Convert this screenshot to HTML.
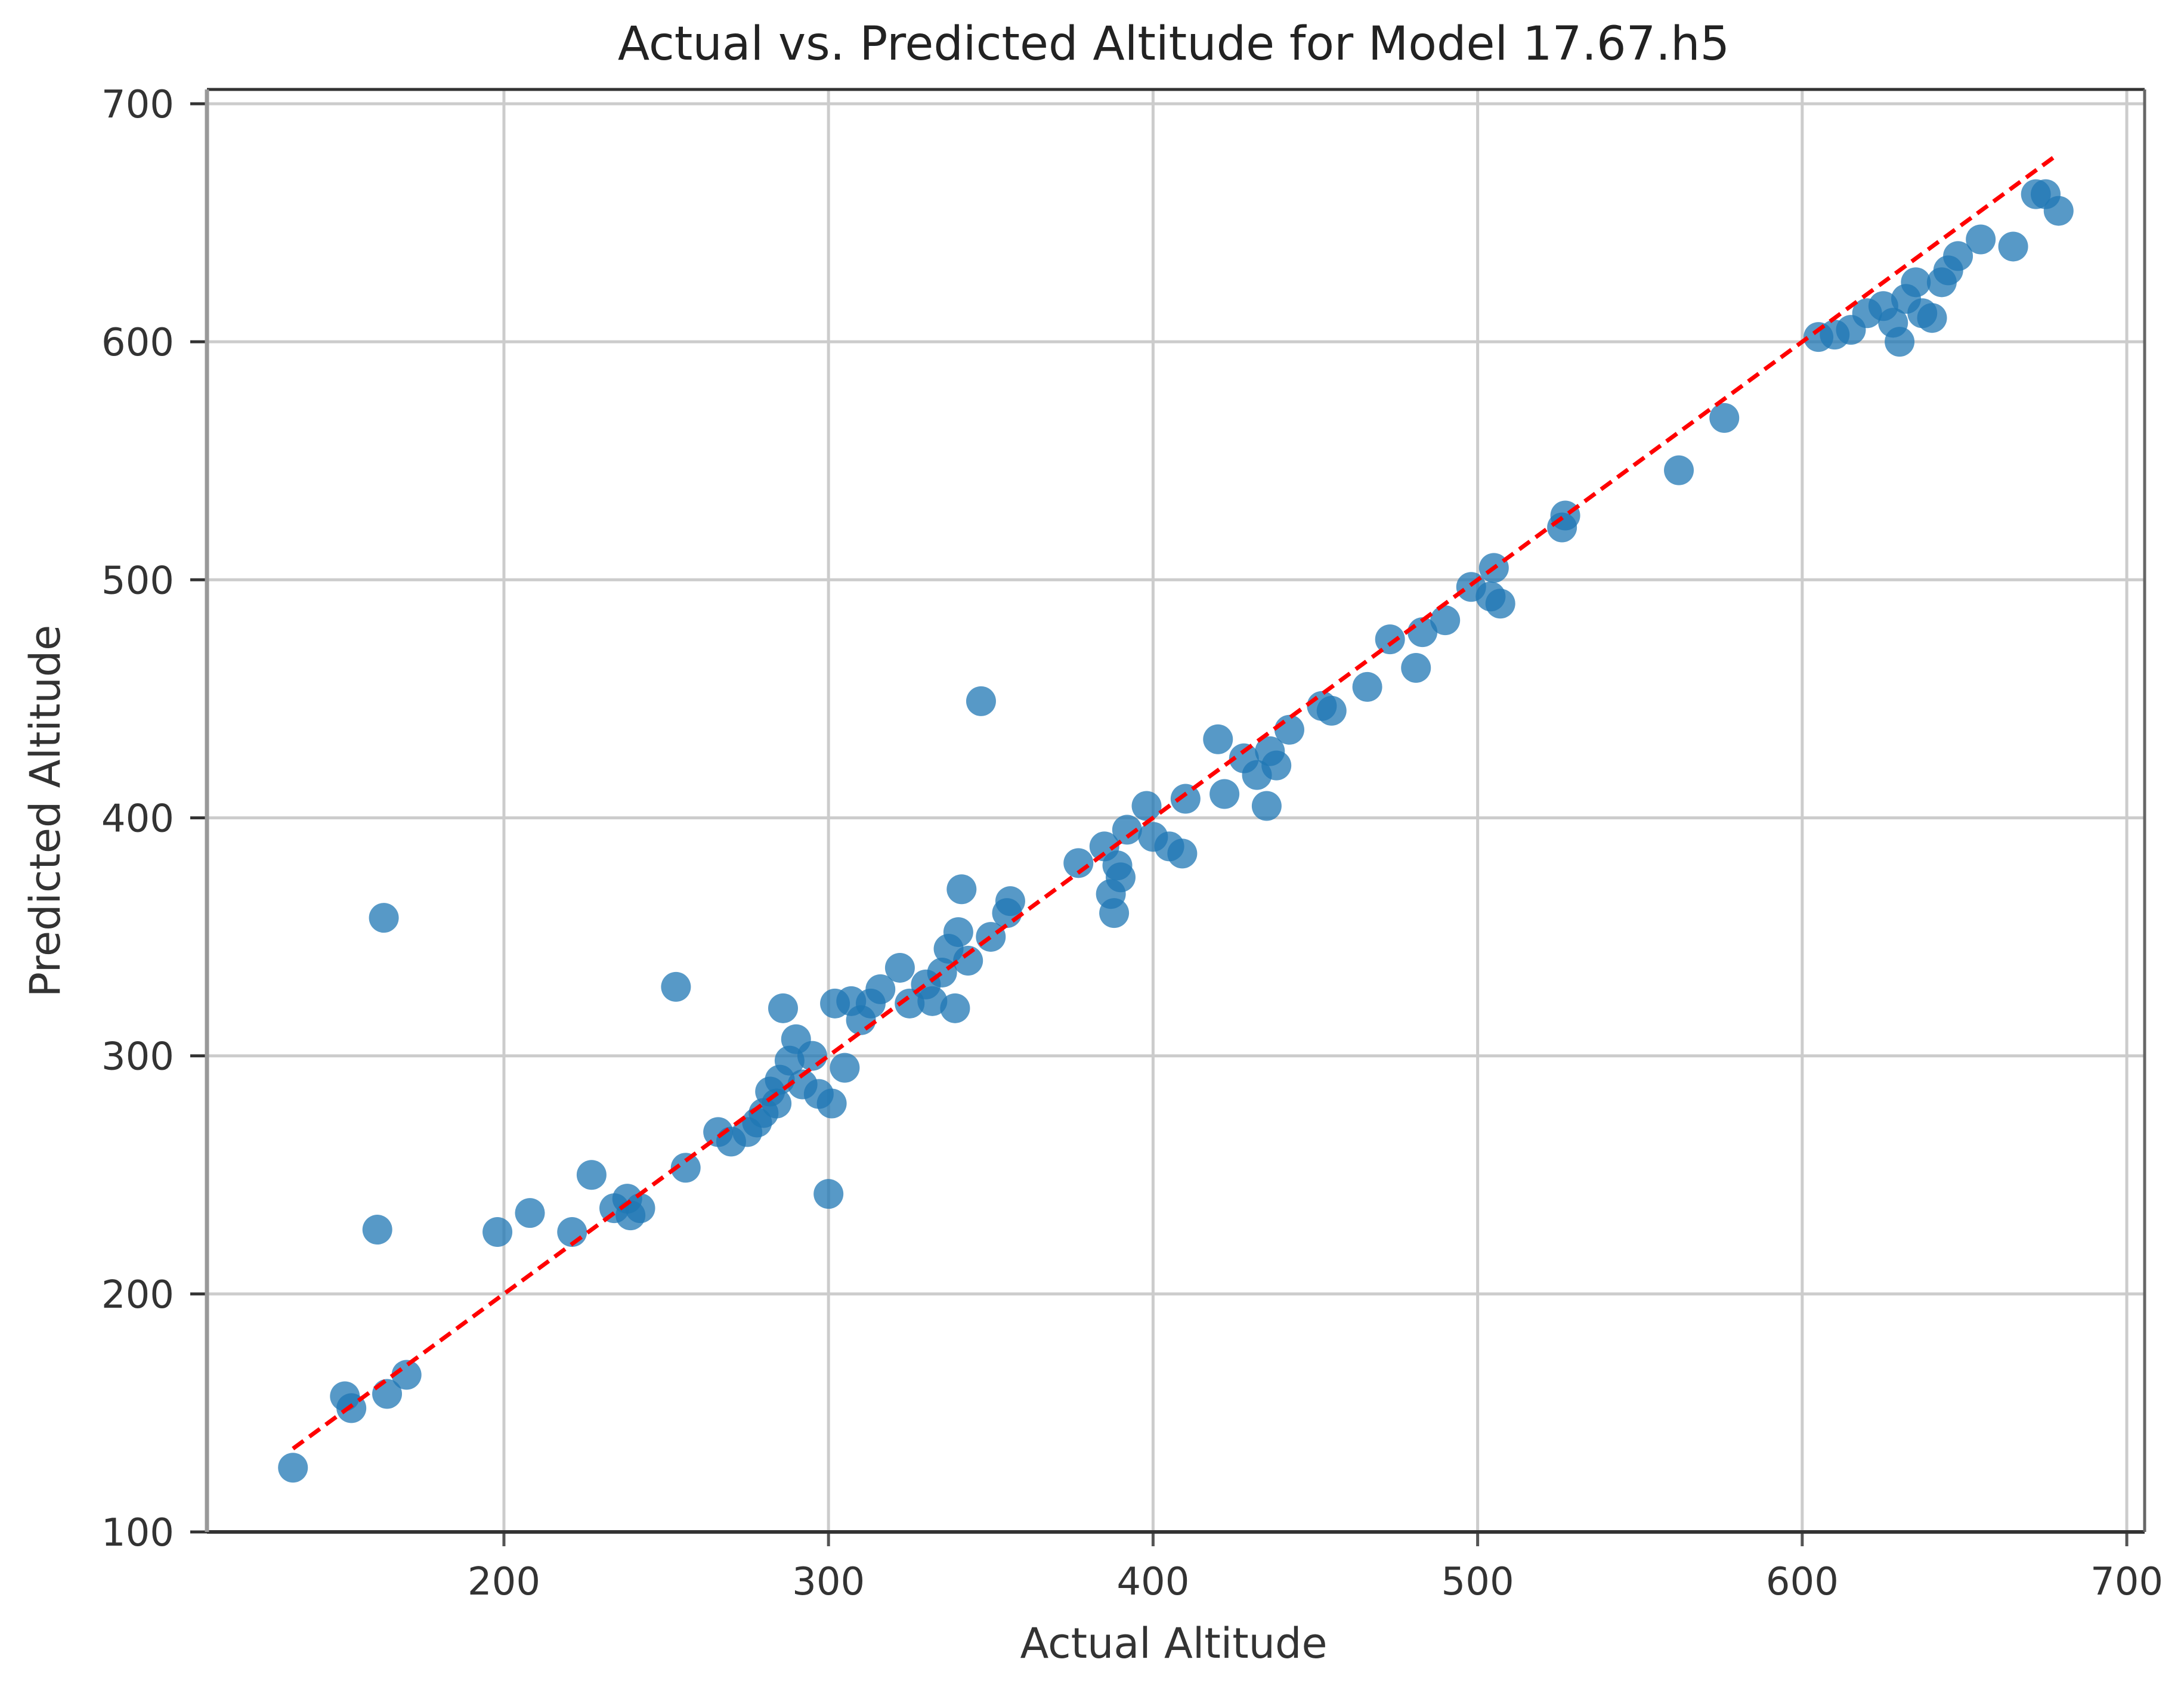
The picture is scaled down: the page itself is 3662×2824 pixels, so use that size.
<!DOCTYPE html>
<html><head><meta charset="utf-8"><style>
html,body{margin:0;padding:0;background:#fff;}
svg{display:block;font-family:"DejaVu Sans","Liberation Sans",sans-serif;}
</style></head><body>
<svg id="chart" width="3662" height="2824" viewBox="0 0 3662 2824" xmlns="http://www.w3.org/2000/svg">
<rect width="3662" height="2824" fill="#fff"/>
<text x="1968" y="100" font-size="78" text-anchor="middle" fill="#222">Actual vs. Predicted Altitude for Model 17.67.h5</text>
<g id="grid"></g>
<g id="ticks"></g>
<g id="points"></g>
<g id="line"></g>
<line x1="347" y1="150" x2="3596" y2="150" stroke="#333" stroke-width="5"/>
<line x1="347" y1="2569" x2="3596" y2="2569" stroke="#333" stroke-width="6"/>
<line x1="347" y1="150" x2="347" y2="2569" stroke="#999" stroke-width="7"/>
<line x1="3596" y1="150" x2="3596" y2="2569" stroke="#666" stroke-width="5"/>
<text x="1968" y="2780" font-size="70" text-anchor="middle" fill="#333">Actual Altitude</text>
<text x="0" y="0" font-size="70" text-anchor="middle" fill="#333" transform="translate(100,1360) rotate(-90)">Predicted Altitude</text>
</svg>
<script>
const xTicks = [200,300,400,500,600,700];
const yTicks = [100,200,300,400,500,600,700];
const actual = [135,151,153,164,170,161,163,198,208,221,227,234,238,239,242,253,256,266,270,275,278,280,282,284,285,286,288,290,292,295,297,300,301,302,305,307,310,313,316,322,325,330,332,335,337,339,340,341,343,347,350,355,356,377,385,387,388,389,390,392,398,400,405,409,410,420,422,428,432,435,436,438,442,452,455,466,473,481,483,490,498,504,505,507,526,527,562,576,605,610,615,620,625,628,630,632,635,637,640,643,645,648,655,665,672,675,679];
const predicted = [127,157,152,158,166,227,358,226,234,226,250,236,240,233,236,329,253,268,264,268,272,276,285,280,290,320,298,307,288,300,284,242,280,322,295,323,315,322,328,337,322,330,323,335,345,320,352,370,340,449,350,360,365,381,388,368,360,380,375,395,405,392,388,385,408,433,410,425,418,405,428,422,437,447,445,455,475,463,478,483,497,493,505,490,522,527,546,568,602,603,605,612,615,608,600,618,625,612,610,625,630,636,643,640,662,662,655];
const lineRange = [135,678];

const NS='http://www.w3.org/2000/svg';
const L=347,R=3596,T=150,B=2569;
const xmin=108.5,xmax=705.5,ymin=100,ymax=706;
const sx=v=>L+(v-xmin)/(xmax-xmin)*(R-L);
const sy=v=>B-(v-ymin)/(ymax-ymin)*(B-T);
function mk(tag,attrs,parent){const e=document.createElementNS(NS,tag);for(const k in attrs)e.setAttribute(k,attrs[k]);parent.appendChild(e);return e;}
const grid=document.getElementById('grid'),ticks=document.getElementById('ticks'),pts=document.getElementById('points'),ln=document.getElementById('line');
xTicks.forEach(v=>{
  const g=mk('line',{x1:sx(v),x2:sx(v),y1:T,y2:B,stroke:'#cccccc','stroke-width':5},grid);
  
  
  const t=mk('line',{x1:sx(v),x2:sx(v),y1:B,y2:B+24,stroke:'#555','stroke-width':5},ticks);
  
  
  const tx=mk('text',{x:sx(v),y:B+105,'font-size':64,'text-anchor':'middle',fill:'#333'},ticks);
  tx.textContent=v;
  
  
});
yTicks.forEach(v=>{
  const g=mk('line',{x1:L,x2:R,y1:sy(v),y2:sy(v),stroke:'#cccccc','stroke-width':5},grid);
  
  
  const t=mk('line',{x1:L-28,x2:L,y1:sy(v),y2:sy(v),stroke:'#333','stroke-width':5},ticks);
  
  
  const tx=mk('text',{x:292,y:sy(v)+23,'font-size':64,'text-anchor':'end',fill:'#333'},ticks);
  tx.textContent=v;
  
  
});
actual.forEach((a,i)=>{
  const c=mk('circle',{cx:sx(a),cy:sy(predicted[i]),r:25,fill:'#1f77b4','fill-opacity':0.75},pts);
  
  
});
const l=mk('line',{x1:sx(lineRange[0]),y1:sy(lineRange[0]),x2:sx(lineRange[1]),y2:sy(lineRange[1]),stroke:'#ff0000','stroke-width':7,'stroke-dasharray':'22,12'},ln);


</script>
</body></html>
